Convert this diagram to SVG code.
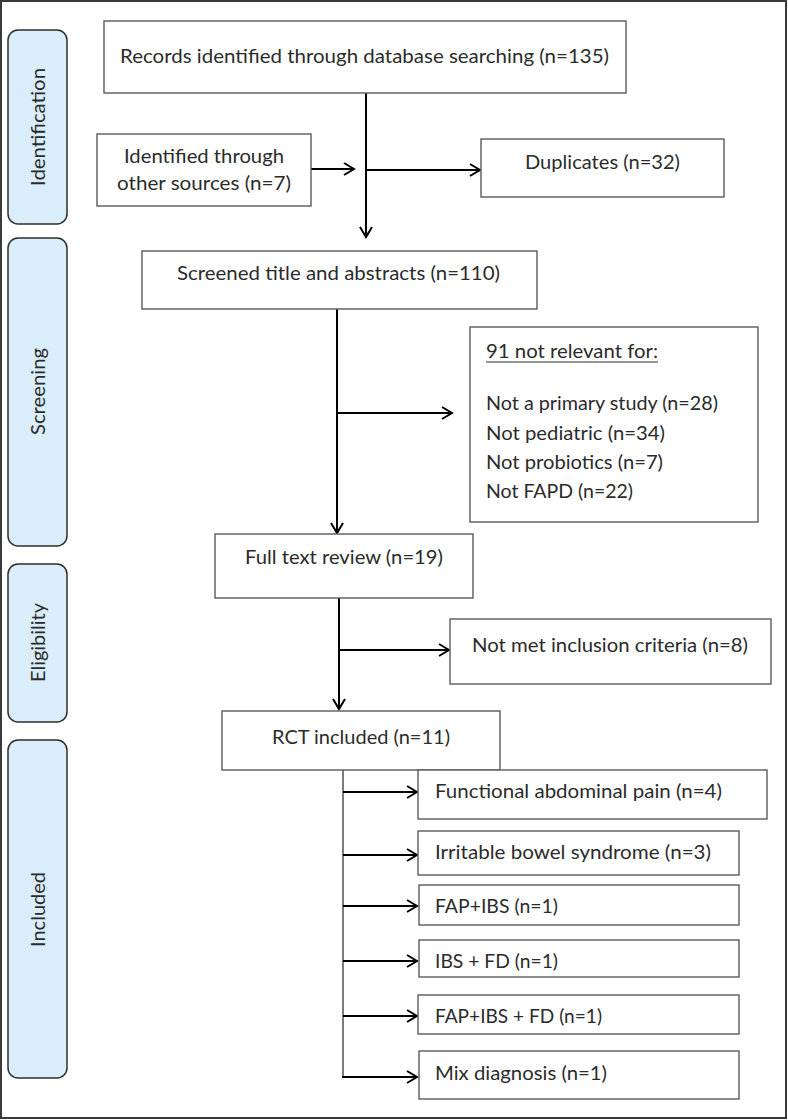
<svg xmlns="http://www.w3.org/2000/svg" width="788" height="1120" viewBox="0 0 788 1120">
<style>
.frame{fill:#fff;stroke:#3a3a3a;stroke-width:2}
.phase{fill:#daedfb;stroke:#2e2e2e;stroke-width:1.5}
.box{fill:#fff;stroke:#5a5a5a;stroke-width:1.4}
.t{font-family:Lato,"Open Sans","Liberation Sans",sans-serif;font-size:19px;fill:#2b2b2b}
.pt{font-family:Lato,"Open Sans","Liberation Sans",sans-serif;font-size:19.5px;fill:#2b2b2b}
.c{fill:none;stroke:#000;stroke-width:2}
.thin{fill:none;stroke:#333;stroke-width:1.3}
</style>
<defs>
<marker id="arr" markerUnits="userSpaceOnUse" markerWidth="14" markerHeight="16" refX="11" refY="7" orient="auto" viewBox="0 0 14 16">
<path d="M1,1 L11,7 L1,13" fill="none" stroke="#000" stroke-width="2"/>
</marker>
</defs>
<rect class="frame" x="1" y="1" width="785" height="1117"/>
<g id="phase-identification"><rect class="phase" x="8" y="30" width="59" height="194" rx="10"/><text class="pt" transform="translate(45,186) rotate(-90)" textLength="118" lengthAdjust="spacingAndGlyphs">Identification</text></g>
<g id="phase-screening"><rect class="phase" x="8" y="238" width="59" height="308" rx="10"/><text class="pt" transform="translate(45,435) rotate(-90)" textLength="87" lengthAdjust="spacingAndGlyphs">Screening</text></g>
<g id="phase-eligibility"><rect class="phase" x="8" y="564" width="59" height="158" rx="10"/><text class="pt" transform="translate(45,682) rotate(-90)" textLength="79" lengthAdjust="spacingAndGlyphs">Eligibility</text></g>
<g id="phase-included"><rect class="phase" x="8" y="740" width="59" height="338" rx="10"/><text class="pt" transform="translate(45,947) rotate(-90)" textLength="75" lengthAdjust="spacingAndGlyphs">Included</text></g>
<g id="connectors">
<line class="c" x1="366" y1="93" x2="366" y2="237" marker-end="url(#arr)"/>
<line class="c" x1="311" y1="169" x2="354" y2="169" marker-end="url(#arr)"/>
<line class="c" x1="366" y1="170" x2="480" y2="170" marker-end="url(#arr)"/>
<line class="c" x1="337" y1="309" x2="337" y2="533" marker-end="url(#arr)"/>
<line class="c" x1="337" y1="413" x2="452" y2="413" marker-end="url(#arr)"/>
<line class="c" x1="339" y1="598" x2="339" y2="709" marker-end="url(#arr)"/>
<line class="c" x1="339" y1="650" x2="449" y2="650" marker-end="url(#arr)"/>
<line class="thin" x1="343" y1="770" x2="343" y2="1077"/>
<line class="c" x1="343" y1="792" x2="417" y2="792" marker-end="url(#arr)"/>
<line class="c" x1="343" y1="855" x2="417" y2="855" marker-end="url(#arr)"/>
<line class="c" x1="343" y1="906" x2="417" y2="906" marker-end="url(#arr)"/>
<line class="c" x1="343" y1="961" x2="417" y2="961" marker-end="url(#arr)"/>
<line class="c" x1="343" y1="1016" x2="417" y2="1016" marker-end="url(#arr)"/>
<line class="c" x1="342" y1="1077" x2="417" y2="1077" marker-end="url(#arr)"/>
</g>
<g id="records"><rect class="box" x="104" y="21" width="522" height="72"/><text class="t" x="120" y="63" textLength="489" lengthAdjust="spacingAndGlyphs">Records identified through database searching (n=135)</text></g>
<g id="other-sources"><rect class="box" x="97" y="134" width="214" height="72"/><text class="t" x="124" y="163" textLength="160" lengthAdjust="spacingAndGlyphs">Identified through</text><text class="t" x="117" y="190" textLength="174" lengthAdjust="spacingAndGlyphs">other sources (n=7)</text></g>
<g id="duplicates"><rect class="box" x="481" y="139" width="243" height="58"/><text class="t" x="525" y="169" textLength="155" lengthAdjust="spacingAndGlyphs">Duplicates (n=32)</text></g>
<g id="screened"><rect class="box" x="142" y="251" width="395" height="58"/><text class="t" x="177" y="280" textLength="323" lengthAdjust="spacingAndGlyphs">Screened title and abstracts (n=110)</text></g>
<g id="not-relevant"><rect class="box" x="470" y="327" width="288" height="195"/>
<text class="t" x="486" y="358" textLength="172" lengthAdjust="spacingAndGlyphs">91 not relevant for:</text>
<line x1="486" y1="362" x2="658" y2="362" stroke="#2b2b2b" stroke-width="1"/>
<text class="t" x="486" y="410" textLength="232" lengthAdjust="spacingAndGlyphs">Not a primary study (n=28)</text>
<text class="t" x="486" y="440" textLength="179" lengthAdjust="spacingAndGlyphs">Not pediatric (n=34)</text>
<text class="t" x="486" y="469" textLength="177" lengthAdjust="spacingAndGlyphs">Not probiotics (n=7)</text>
<text class="t" x="486" y="498" textLength="147" lengthAdjust="spacingAndGlyphs">Not FAPD (n=22)</text></g>
<g id="full-text"><rect class="box" x="215" y="534" width="258" height="64"/><text class="t" x="245" y="564" textLength="198" lengthAdjust="spacingAndGlyphs">Full text review (n=19)</text></g>
<g id="not-met"><rect class="box" x="450" y="619" width="321" height="65"/><text class="t" x="472" y="652" textLength="276" lengthAdjust="spacingAndGlyphs">Not met inclusion criteria (n=8)</text></g>
<g id="rct"><rect class="box" x="222" y="711" width="278" height="59"/><text class="t" x="272" y="744" textLength="178" lengthAdjust="spacingAndGlyphs">RCT included (n=11)</text></g>
<g id="fap"><rect class="box" x="418" y="770" width="349" height="49"/><text class="t" x="435" y="798" textLength="287" lengthAdjust="spacingAndGlyphs">Functional abdominal pain (n=4)</text></g>
<g id="ibs"><rect class="box" x="418" y="831" width="321" height="44"/><text class="t" x="435" y="859" textLength="276" lengthAdjust="spacingAndGlyphs">Irritable bowel syndrome (n=3)</text></g>
<g id="fap-ibs"><rect class="box" x="419" y="885" width="320" height="40"/><text class="t" x="435" y="913" textLength="123" lengthAdjust="spacingAndGlyphs">FAP+IBS (n=1)</text></g>
<g id="ibs-fd"><rect class="box" x="419" y="940" width="320" height="37"/><text class="t" x="435" y="968" textLength="123" lengthAdjust="spacingAndGlyphs">IBS + FD (n=1)</text></g>
<g id="fap-ibs-fd"><rect class="box" x="418" y="995" width="321" height="39"/><text class="t" x="435" y="1023" textLength="167" lengthAdjust="spacingAndGlyphs">FAP+IBS + FD (n=1)</text></g>
<g id="mix"><rect class="box" x="419" y="1051" width="320" height="48"/><text class="t" x="435" y="1080" textLength="172" lengthAdjust="spacingAndGlyphs">Mix diagnosis (n=1)</text></g>
</svg>
